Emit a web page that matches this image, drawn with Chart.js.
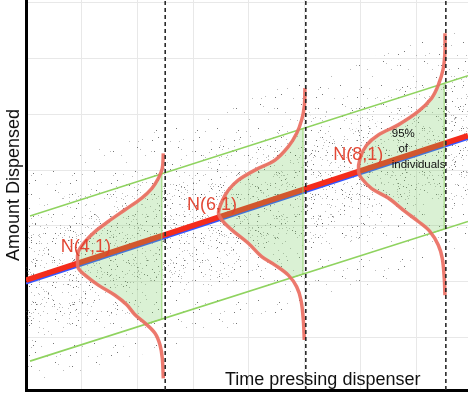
<!DOCTYPE html>
<html>
<head>
<meta charset="utf-8">
<script src="https://cdn.jsdelivr.net/npm/chart.js@4/dist/chart.umd.min.js"></script>
<style>
  html, body { margin: 0; padding: 0; background: #fff; }
  #wrap { width: 468px; height: 395px; }
</style>
</head>
<body>
<div id="wrap"><canvas id="chart"></canvas></div>
<script>
// grid ticks (no labels shown)
const xTicks = [1, 2, 3, 4, 5, 6, 7];
const yTicks = [1, 2, 3, 4, 5, 6, 7];

// fitted line (red, with blue line just under it)
const regX = [0.005, 7.927];
const regY = [2.03, 4.62];
const blueY = [1.97, 4.56];

// 95% band lines (green)
const greenX = [0.077, 7.927];
const upperGreenY = [3.18, 5.69];
const lowerGreenY = [0.58, 3.08];

// dashed verticals and right edge of the shaded 95% areas
const dashedX = [2.5, 5.02, 7.53];
const fillRight = [2.44, 4.97, 7.5];

// sideways normal curves, read top to bottom
const curve1X = [2.466, 2.448, 2.376, 2.258, 2.079, 1.78, 1.48, 1.242, 1.063, 0.943, 0.928, 0.943, 1.063, 1.301, 1.6, 1.81, 1.959, 2.138, 2.317, 2.407, 2.448, 2.466];
const curve1Y = [4.3, 4.03, 3.85, 3.67, 3.5, 3.29, 3.08, 2.9, 2.72, 2.54, 2.36, 2.24, 2.12, 1.94, 1.76, 1.59, 1.41, 1.26, 1.08, 0.87, 0.63, 0.27];
const curve2X = [5.005, 4.993, 4.946, 4.857, 4.706, 4.468, 4.109, 3.81, 3.631, 3.513, 3.455, 3.513, 3.692, 3.989, 4.229, 4.468, 4.706, 4.857, 4.934, 4.975, 4.993];
const curve2Y = [5.47, 5.14, 4.9, 4.66, 4.42, 4.18, 4.0, 3.82, 3.64, 3.43, 3.23, 3.11, 2.93, 2.69, 2.45, 2.3, 2.12, 1.91, 1.67, 1.32, 0.96];
const curve3X = [7.514, 7.514, 7.484, 7.394, 7.276, 7.036, 6.677, 6.319, 6.111, 5.991, 5.964, 6.022, 6.201, 6.498, 6.797, 7.036, 7.246, 7.394, 7.466, 7.502, 7.514];
const curve3Y = [6.45, 6.12, 5.82, 5.52, 5.29, 5.05, 4.81, 4.63, 4.45, 4.21, 3.97, 3.85, 3.67, 3.5, 3.26, 3.08, 2.9, 2.66, 2.42, 2.06, 1.76];

// scatter cloud outline: outer (sparse), middle, inner (dense)
const cloudX = [0.005, 7.927];
const outerTop = [3.95, 6.6];
const outerBottom = [0.06, 2.5];
const midTop = [3.3, 5.9];
const midBottom = [0.85, 3.4];
const innerTop = [2.8, 5.4];
const innerBottom = [1.3, 3.85];

// text
const meanLabels = ["N(4,1)", "N(6,1)", "N(8,1)"];
const meanLabelX = [0.63, 2.89, 5.51];
const meanLabelY = [2.53, 3.29, 4.18];
const noteLines = ["95%", "of", "individuals"];
const noteX = [6.56, 6.68, 6.56];
const noteY = [4.6, 4.32, 4.03];
const xTitle = "Time pressing dispenser";
const yTitle = "Amount Dispensed";

const toPts = (xs, ys) => xs.map((x, i) => ({ x: x, y: ys[i] }));
const lineAt = (xs, ys, x) => ys[0] + ((x - xs[0]) / (xs[1] - xs[0])) * (ys[1] - ys[0]);

// speckle texture for the cloud fill (fixed hash, so it looks the same every time)
function speckle(w, h, n, seed) {
  const c = document.createElement("canvas");
  c.width = w;
  c.height = h;
  const g = c.getContext("2d");
  let s = seed >>> 0;
  const next = () => {
    s = (s + 0x6d2b79f5) >>> 0;
    let t = s;
    t = Math.imul(t ^ (t >>> 15), t | 1);
    t ^= t + Math.imul(t ^ (t >>> 7), t | 61);
    return ((t ^ (t >>> 14)) >>> 0) / 4294967296;
  };
  for (let i = 0; i < n; i++) {
    const px = Math.floor(next() * w);
    const py = Math.floor(next() * h);
    g.fillStyle = next() < 0.3 ? "rgba(60,60,60,0.7)" : "rgba(120,120,120,0.5)";
    g.fillRect(px, py, 1, 1);
  }
  return g.createPattern(c, "repeat");
}

// closed band polygon between two straight edges
function bandShape(top, bottom) {
  return [
    { x: cloudX[0], y: top[0] },
    { x: cloudX[1], y: top[1] },
    { x: cloudX[1], y: bottom[1] },
    { x: cloudX[0], y: bottom[0] },
  ];
}

// part of a curve that lies between the green lines, closed at the right edge
function shadedShape(cx, cy, right) {
  const up = (x) => lineAt(greenX, upperGreenY, x);
  const lo = (x) => lineAt(greenX, lowerGreenY, x);
  const inside = (i) => cy[i] <= up(cx[i]) && cy[i] >= lo(cx[i]);
  const pts = [];
  for (let i = 0; i < cx.length; i++) {
    if (i > 0 && inside(i) !== inside(i - 1)) {
      const useUpper = cy[i] > up(cx[i]) || cy[i - 1] > up(cx[i - 1]);
      const edge = useUpper ? up : lo;
      const d0 = cy[i - 1] - edge(cx[i - 1]);
      const d1 = cy[i] - edge(cx[i]);
      const t = d0 / (d0 - d1);
      pts.push({ x: cx[i - 1] + t * (cx[i] - cx[i - 1]), y: cy[i - 1] + t * (cy[i] - cy[i - 1]) });
    }
    if (inside(i)) pts.push({ x: cx[i], y: cy[i] });
  }
  pts.push({ x: right, y: lo(right) });
  pts.push({ x: right, y: up(right) });
  return pts;
}

const clear = "rgba(0,0,0,0)";
const curveColor = "rgba(236,110,98,0.92)";
const greenLine = "#8fd35f";
const shade = "rgba(120,205,95,0.27)";

const datasets = [];

// cloud layers
[
  [outerTop, outerBottom, speckle(41, 43, 16, 7)],
  [midTop, midBottom, speckle(47, 39, 32, 91)],
  [innerTop, innerBottom, speckle(37, 44, 40, 1234)],
].forEach(([top, bottom, pattern], i) => {
  datasets.push({
    data: bandShape(top, bottom),
    fill: "shape",
    backgroundColor: pattern,
    borderColor: clear,
    borderWidth: 0,
    tension: 0,
    order: 20 - i,
  });
});

// fitted line
datasets.push({ data: toPts(regX, blueY), borderColor: "#3556ff", borderWidth: 2.2, fill: false, order: 12 });
datasets.push({ data: toPts(regX, regY), borderColor: "#f42c1c", borderWidth: 5.5, fill: false, order: 11 });

// shaded 95% regions
const curves = [
  [curve1X, curve1Y],
  [curve2X, curve2Y],
  [curve3X, curve3Y],
];
curves.forEach(([cx, cy], i) => {
  datasets.push({
    data: shadedShape(cx, cy, fillRight[i]),
    fill: "shape",
    backgroundColor: shade,
    borderColor: "rgba(140,210,100,0.9)",
    borderWidth: 1,
    tension: 0,
    order: 9,
  });
});

// green band lines
datasets.push({ data: toPts(greenX, upperGreenY), borderColor: greenLine, borderWidth: 1.6, fill: false, order: 8 });
datasets.push({ data: toPts(greenX, lowerGreenY), borderColor: greenLine, borderWidth: 1.6, fill: false, order: 8 });

// normal curves
curves.forEach(([cx, cy]) => {
  datasets.push({
    data: toPts(cx, cy),
    borderColor: curveColor,
    borderWidth: 3.5,
    fill: false,
    tension: 0.35,
    order: 6,
  });
});

// dashed verticals
dashedX.forEach((x) => {
  datasets.push({
    data: [{ x: x, y: 0.063 }, { x: x, y: 7.046 }],
    borderColor: "#2a2a2a",
    borderWidth: 1.6,
    borderDash: [4, 3],
    fill: false,
    order: 4,
  });
});

const textPlugin = {
  id: "textPlugin",
  afterDatasetsDraw(chart) {
    const { ctx } = chart;
    const xs = chart.scales.x;
    const ys = chart.scales.y;
    ctx.save();
    ctx.textBaseline = "alphabetic";
    ctx.textAlign = "left";

    ctx.font = '18px "Liberation Sans", Arial, sans-serif';
    ctx.fillStyle = "rgba(226,62,42,0.95)";
    meanLabels.forEach((t, i) => {
      ctx.fillText(t, xs.getPixelForValue(meanLabelX[i]), ys.getPixelForValue(meanLabelY[i]));
    });

    ctx.font = '11.5px "Liberation Sans", Arial, sans-serif';
    ctx.fillStyle = "#111";
    noteLines.forEach((t, i) => {
      ctx.fillText(t, xs.getPixelForValue(noteX[i]), ys.getPixelForValue(noteY[i]));
    });

    ctx.font = '18px "Liberation Sans", Arial, sans-serif';
    ctx.fillStyle = "#111";
    ctx.fillText(xTitle, xs.getPixelForValue(3.572), ys.getPixelForValue(0.152));

    ctx.translate(xs.getPixelForValue(-0.12), ys.getPixelForValue(3.733));
    ctx.rotate(-Math.PI / 2);
    ctx.textAlign = "center";
    ctx.fillText(yTitle, 0, 0);
    ctx.restore();
  },
};

new Chart(document.getElementById("chart"), {
  type: "line",
  data: { datasets: datasets },
  options: {
    responsive: true,
    maintainAspectRatio: false,
    animation: false,
    events: [],
    layout: { padding: { left: 26, right: 0, top: 0, bottom: 5 } },
    elements: { point: { radius: 0 }, line: { tension: 0 } },
    plugins: { legend: { display: false }, tooltip: { enabled: false } },
    scales: {
      x: {
        type: "linear",
        min: 0.005,
        max: 7.927,
        afterBuildTicks: (scale) => {
          scale.ticks = xTicks.map((v) => ({ value: v }));
        },
        ticks: { display: false },
        grid: { color: "#e8e8e8", lineWidth: 1, drawTicks: false },
        border: { display: true, color: "#000", width: 3 },
      },
      y: {
        type: "linear",
        min: 0.063,
        max: 7.046,
        afterBuildTicks: (scale) => {
          scale.ticks = yTicks.map((v) => ({ value: v }));
        },
        ticks: { display: false },
        grid: { color: "#e8e8e8", lineWidth: 1, drawTicks: false },
        border: { display: true, color: "#000", width: 3 },
      },
    },
  },
  plugins: [textPlugin],
});
</script>
</body>
</html>
